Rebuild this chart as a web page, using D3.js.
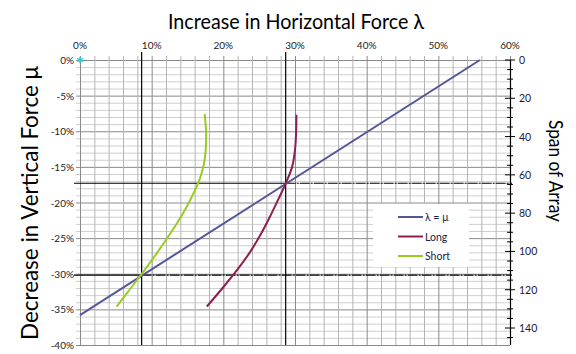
<!DOCTYPE html>
<html>
<head>
<meta charset="utf-8">
<script src="https://cdn.jsdelivr.net/npm/d3@7"></script>
<style>
  body { margin: 0; background: #fff; }
  svg { display: block; font-family: Lato, "Open Sans", sans-serif; }
</style>
</head>
<body>
<svg id="chart" width="576" height="354"></svg>
<script>
// data (lambda %, mu %)
var lambdaMu = [[0, -35.8], [55.8, 0]];
var longSpan = [[30.2, -7.7], [30.15, -10.3], [30.0, -12.6], [29.6, -15.0], [28.8, -17.1],
    [27.7, -19.5], [26.5, -22.0], [25.2, -24.5], [23.7, -27.0], [21.9, -29.5], [19.9, -32.0], [17.7, -34.6]];
var shortSpan = [[17.4, -7.6], [17.6, -10.3], [17.5, -13.1], [17.2, -15.0], [16.6, -17.0],
    [15.45, -19.5], [14.1, -22.0], [12.5, -24.5], [10.8, -27.0], [9.0, -29.5],
    [7.1, -32.0], [5.1, -34.6]];
var origin = [[0, 0]];
var refLambda = [8.6, 28.7];   // vertical black lines
var refMu = [-30.2, -17.3];    // horizontal black lines (same order as refLambda)
var xTicks = [0, 10, 20, 30, 40, 50, 60];
var yTicks = [0, -5, -10, -15, -20, -25, -30, -35, -40];
var spanTicks = [0, 20, 40, 60, 80, 100, 120, 140];

var seriesNames = ["λ = μ", "Long", "Short"];
var seriesColors = ["#55559a", "#8c1f50", "#99cc22"];

var svg = d3.select("#chart");

var x = d3.scaleLinear().domain([0, 60]).range([80, 510]);
var y = d3.scaleLinear().domain([-40, 0]).range([345, 60]);
var span = d3.scaleLinear().domain([0, 140]).range([60, 328]);

// grid
var grid = svg.append("g");
grid.selectAll(".hmin")
    .data(d3.range(-40, 1, 1))
    .enter().append("line")
    .attr("x1", x(0) - 4).attr("x2", x(60))
    .attr("y1", d => y(d) + 0.5).attr("y2", d => y(d) + 0.5)
    .attr("stroke", d => d % 5 === 0 ? "#8a8a8a" : "#cfcfcf")
    .attr("stroke-width", 1);
grid.selectAll(".vmin")
    .data(d3.range(0, 61, 2))
    .enter().append("line")
    .attr("x1", d => x(d) + 0.5).attr("x2", d => x(d) + 0.5)
    .attr("y1", y(0) - 4).attr("y2", y(-40))
    .attr("stroke", d => d % 10 === 0 ? "#8a8a8a" : "#b4b4b4")
    .attr("stroke-width", 1);

// reference lines
refLambda.forEach(function(l) {
    svg.append("line")
        .attr("x1", x(l)).attr("x2", x(l))
        .attr("y1", 52).attr("y2", y(-40))
        .attr("stroke", "#000").attr("stroke-width", 1.2);
});
refMu.forEach(function(m, i) {
    svg.append("line")
        .attr("x1", 74).attr("x2", x(refLambda[i]))
        .attr("y1", y(m)).attr("y2", y(m))
        .attr("stroke", "#000").attr("stroke-width", 1.2);
    svg.append("line")
        .attr("x1", x(refLambda[i])).attr("x2", 512)
        .attr("y1", y(m)).attr("y2", y(m))
        .attr("stroke", "#000").attr("stroke-width", 1.2)
        .attr("stroke-dasharray", "10,1,2,1");
});

// series
var curved = d3.line().x(d => x(d[0])).y(d => y(d[1])).curve(d3.curveCatmullRom);
var straight = d3.line().x(d => x(d[0])).y(d => y(d[1]));
[lambdaMu, longSpan, shortSpan].forEach(function(s, i) {
    svg.append("path")
        .datum(s)
        .attr("fill", "none")
        .attr("stroke", seriesColors[i])
        .attr("stroke-width", 2)
        .attr("d", i === 0 ? straight(s) : curved(s));
});

svg.selectAll(".origin")
    .data(origin)
    .enter().append("path")
    .attr("transform", d => "translate(" + x(d[0]) + "," + y(d[1]) + ")")
    .attr("d", d3.symbol(d3.symbolAsterisk, 30))
    .attr("fill", "none")
    .attr("stroke", "#33cccc")
    .attr("stroke-width", 1.5);

// top axis labels
svg.selectAll(".xt")
    .data(xTicks)
    .enter().append("text")
    .attr("x", d => x(d)).attr("y", 49)
    .attr("text-anchor", "middle")
    .style("font-size", "10px").attr("fill", "#222")
    .text(d => d + "%");

// left axis labels
svg.selectAll(".yt")
    .data(yTicks)
    .enter().append("text")
    .attr("x", 74).attr("y", d => y(d) + 4)
    .attr("text-anchor", "end")
    .style("font-size", "10px").attr("fill", "#222")
    .text(d => d + "%");

// right axis
var right = svg.append("g");
right.append("line")
    .attr("x1", 510.5).attr("x2", 510.5)
    .attr("y1", 60).attr("y2", 345)
    .attr("stroke", "#000").attr("stroke-width", 1.2);
right.selectAll(".rmin")
    .data(d3.range(0, 146, 5))
    .enter().append("line")
    .attr("x1", d => d % 20 === 0 ? 505 : 507).attr("x2", d => d % 20 === 0 ? 515 : 513)
    .attr("y1", d => span(d)).attr("y2", d => span(d))
    .attr("stroke", "#000").attr("stroke-width", 1);
right.selectAll(".rt")
    .data(spanTicks)
    .enter().append("text")
    .attr("x", 519).attr("y", d => span(d) + 4)
    .style("font-size", "10.5px").attr("fill", "#1a1a3a")
    .text(d => d);

// titles
svg.append("text")
    .attr("x", 296).attr("y", 29)
    .attr("text-anchor", "middle")
    .attr("textLength", 256).attr("lengthAdjust", "spacingAndGlyphs")
    .style("font-size", "22px").attr("fill", "#000")
    .text("Increase in Horizontal Force λ");
svg.append("text")
    .attr("transform", "translate(38,203) rotate(-90)")
    .attr("text-anchor", "middle")
    .attr("textLength", 274).attr("lengthAdjust", "spacingAndGlyphs")
    .style("font-size", "23px").attr("fill", "#000")
    .text("Decrease in Vertical Force μ");
svg.append("text")
    .attr("transform", "translate(549,171) rotate(90)")
    .attr("text-anchor", "middle")
    .attr("textLength", 102).attr("lengthAdjust", "spacingAndGlyphs")
    .style("font-size", "20px").attr("fill", "#000")
    .text("Span of Array");

// legend
var legend = svg.append("g");
legend.append("rect")
    .attr("x", 373).attr("y", 204).attr("width", 96).attr("height", 63)
    .attr("fill", "#fff");
seriesNames.forEach(function(n, i) {
    var ly = 217 + i * 19.5;
    legend.append("line")
        .attr("x1", 398).attr("x2", 423)
        .attr("y1", ly).attr("y2", ly)
        .attr("stroke", seriesColors[i]).attr("stroke-width", 2);
    legend.append("text")
        .attr("x", 425).attr("y", ly + 4)
        .style("font-size", "10.5px").attr("fill", "#1a1a4a")
        .text(n);
});
</script>
</body>
</html>
